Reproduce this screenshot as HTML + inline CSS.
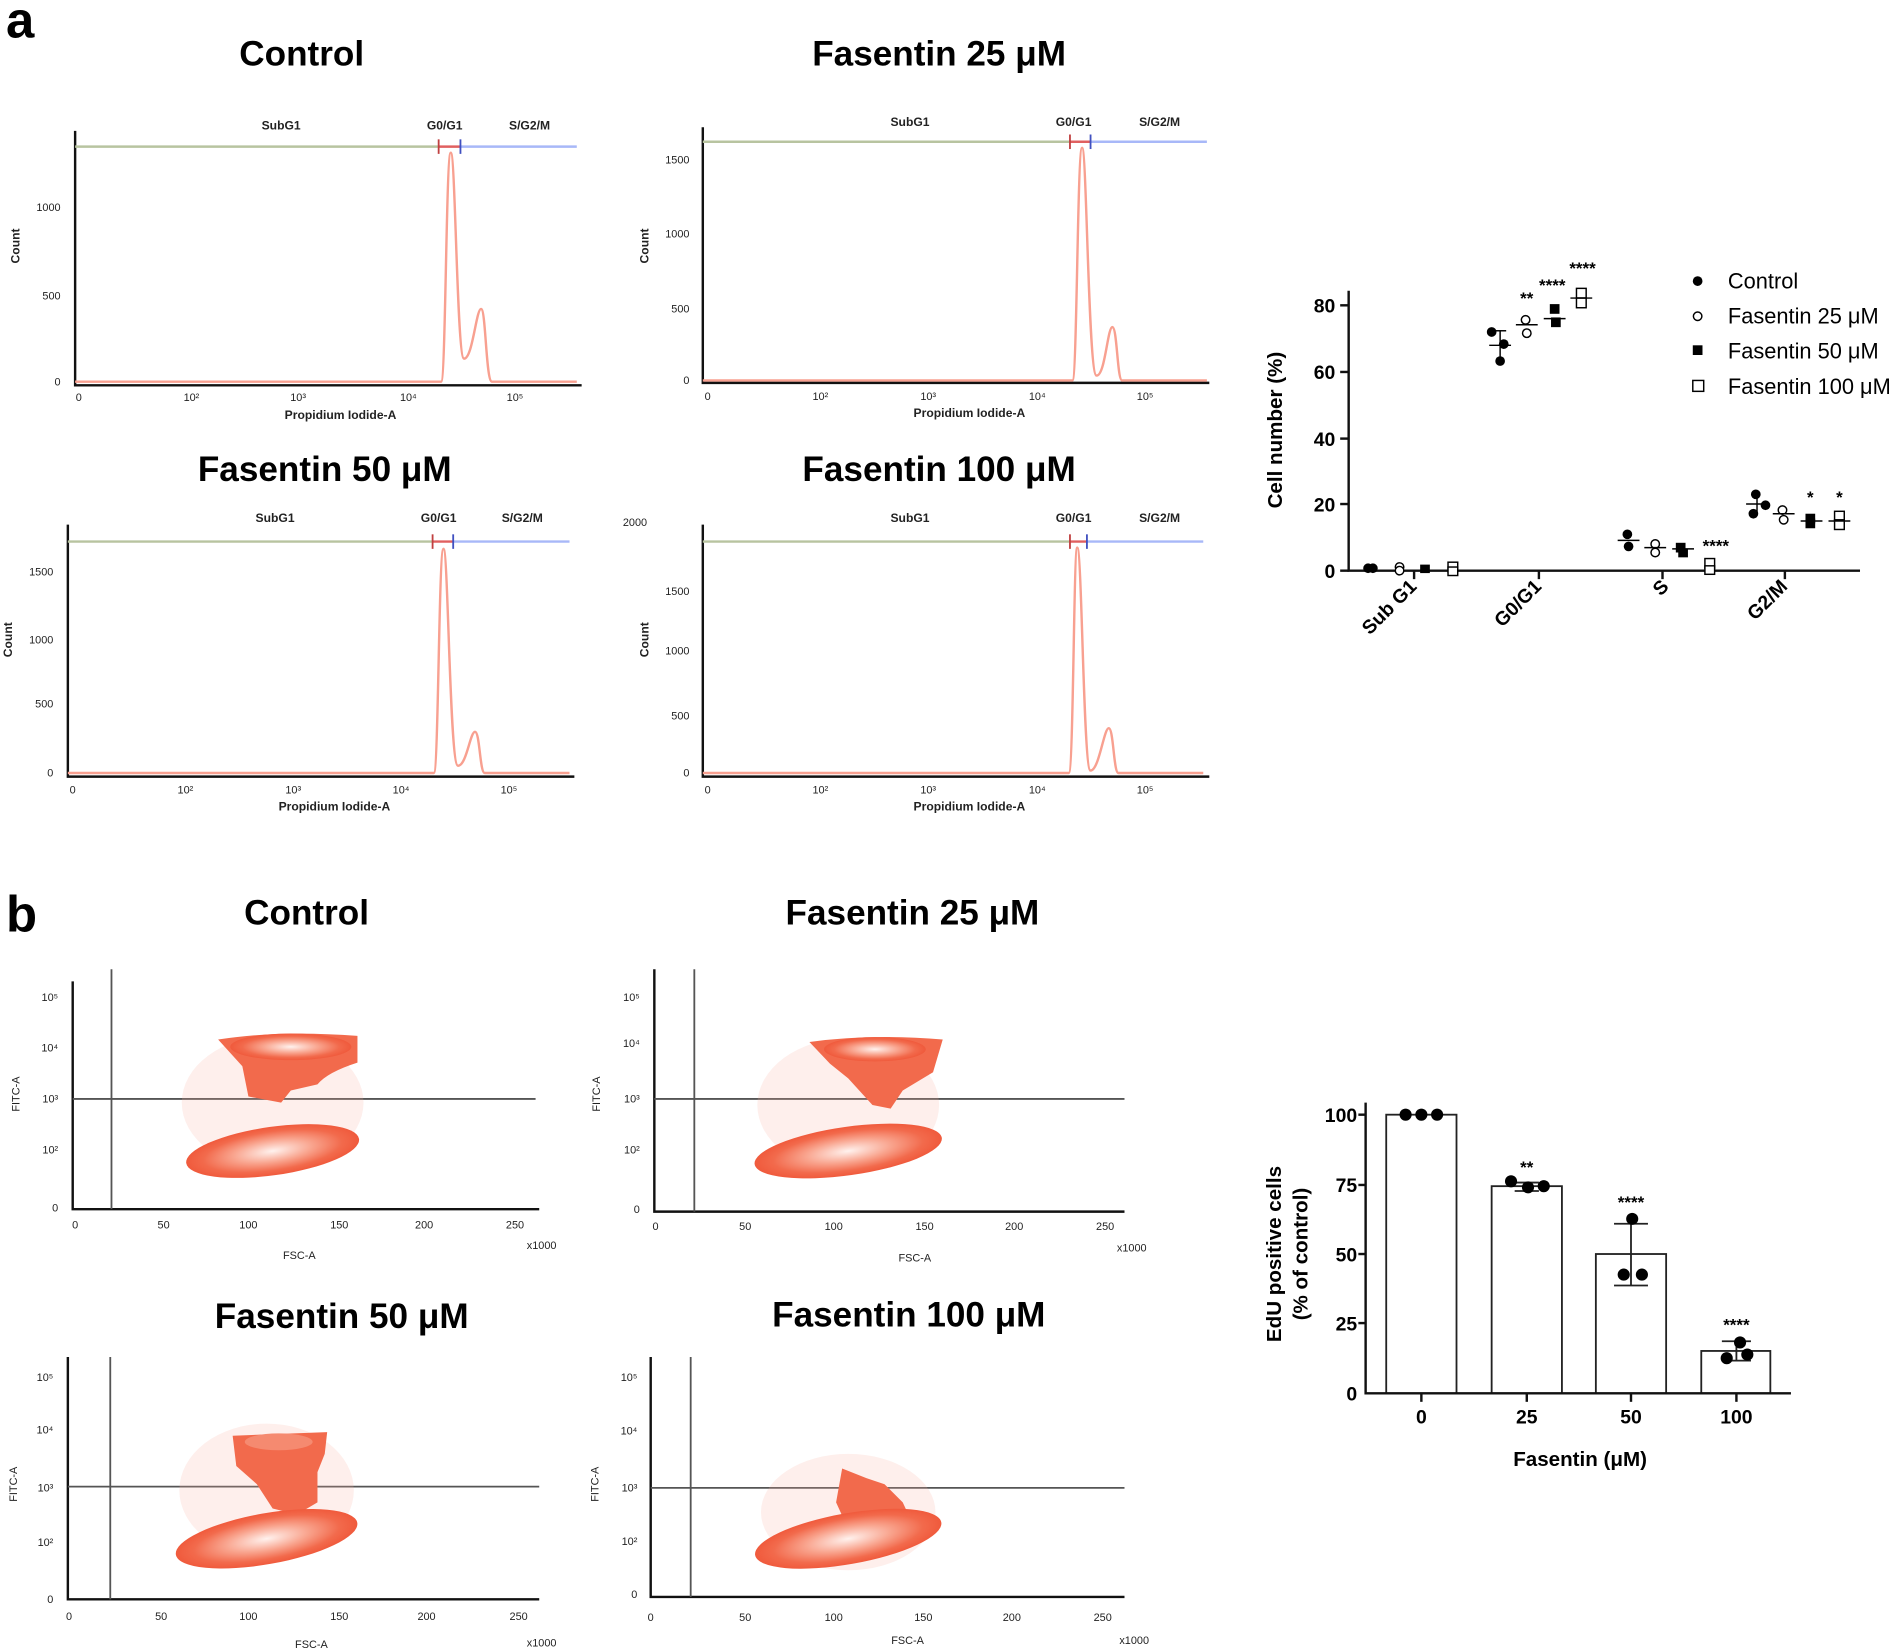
<!DOCTYPE html>
<html><head><meta charset="utf-8"><style>
html,body{margin:0;padding:0;background:#fff;}
svg{display:block;font-family:"Liberation Sans",Arial,sans-serif;}
.t{font-weight:bold;font-size:29px;text-anchor:middle;}
.s{font-size:9px;fill:#222;}
.sm{font-size:10px;fill:#222;font-weight:bold;}
.ax{stroke:#111;stroke-width:2;fill:none;}
.pk{stroke:#f8a090;stroke-width:2;fill:none;}
.gl{stroke:#555;stroke-width:1.5;}
.b{font-weight:bold;}
</style></head><body>
<svg width="1900" height="1649" viewBox="0 0 1568 1361" preserveAspectRatio="none">
<defs>
<radialGradient id="g"><stop offset="0" stop-color="#fff2ee"/><stop offset="0.45" stop-color="#f9a58f"/><stop offset="0.8" stop-color="#f26a4c"/><stop offset="1" stop-color="#f05a3c"/></radialGradient>
</defs>
<text x="5" y="31" font-size="42" class="b">a</text>
<text x="5" y="769" font-size="42" class="b">b</text>

<!-- Histogram 1 Control -->
<text x="249" y="54" class="t">Control</text>
<path class="ax" d="M62,108 V318 H480"/>
<line x1="62" y1="121" x2="362" y2="121" stroke="#b8c4a0" stroke-width="2"/>
<line x1="362" y1="121" x2="380" y2="121" stroke="#e06060" stroke-width="2"/>
<line x1="380" y1="121" x2="476" y2="121" stroke="#a8b8f8" stroke-width="2"/>
<line x1="362" y1="115" x2="362" y2="127" stroke="#c04040" stroke-width="1.5"/><line x1="380" y1="115" x2="380" y2="127" stroke="#4050c0" stroke-width="1.5"/>
<text x="232" y="107" class="sm" text-anchor="middle">SubG1</text><text x="367" y="107" class="sm" text-anchor="middle">G0/G1</text><text x="437" y="107" class="sm" text-anchor="middle">S/G2/M</text>
<path class="pk" d="M62,315 L364,315 C368,315 368,126 372,126 C376,126 377,296 383,296 C390,296 393,255 397,255 C401,255 401,315 406,315 L476,315"/>
<g class="s" text-anchor="end"><text x="50" y="174">1000</text><text x="50" y="247">500</text><text x="50" y="318">0</text></g>
<g class="s" text-anchor="middle"><text x="65" y="331">0</text><text x="158" y="331">10²</text><text x="246" y="331">10³</text><text x="337" y="331">10⁴</text><text x="425" y="331">10⁵</text></g>
<text x="281" y="346" class="sm" text-anchor="middle">Propidium  Iodide-A</text>
<text transform="translate(16,203) rotate(-90)" class="sm" text-anchor="middle">Count</text>

<!-- Histogram 2 -->
<text x="775" y="54" class="t">Fasentin 25 μM</text>
<path class="ax" d="M580,105 V316 H998"/>
<line x1="580" y1="117" x2="883" y2="117" stroke="#b8c4a0" stroke-width="2"/>
<line x1="883" y1="117" x2="900" y2="117" stroke="#e06060" stroke-width="2"/>
<line x1="900" y1="117" x2="996" y2="117" stroke="#a8b8f8" stroke-width="2"/>
<line x1="883" y1="111" x2="883" y2="123" stroke="#c04040" stroke-width="1.5"/><line x1="900" y1="111" x2="900" y2="123" stroke="#4050c0" stroke-width="1.5"/>
<text x="751" y="104" class="sm" text-anchor="middle">SubG1</text><text x="886" y="104" class="sm" text-anchor="middle">G0/G1</text><text x="957" y="104" class="sm" text-anchor="middle">S/G2/M</text>
<path class="pk" d="M580,314 L885,314 C889,314 889,122 893,122 C897,122 898,310 905,310 C912,310 914,270 918,270 C922,270 922,314 926,314 L996,314"/>
<g class="s" text-anchor="end"><text x="569" y="135">1500</text><text x="569" y="196">1000</text><text x="569" y="258">500</text><text x="569" y="317">0</text></g>
<g class="s" text-anchor="middle"><text x="584" y="330">0</text><text x="677" y="330">10²</text><text x="766" y="330">10³</text><text x="856" y="330">10⁴</text><text x="945" y="330">10⁵</text></g>
<text x="800" y="344" class="sm" text-anchor="middle">Propidium  Iodide-A</text>
<text transform="translate(535,203) rotate(-90)" class="sm" text-anchor="middle">Count</text>

<!-- Histogram 3 -->
<text x="268" y="397" class="t">Fasentin 50 μM</text>
<path class="ax" d="M56,433 V641 H474"/>
<line x1="56" y1="447" x2="357" y2="447" stroke="#b8c4a0" stroke-width="2"/>
<line x1="357" y1="447" x2="374" y2="447" stroke="#e06060" stroke-width="2"/>
<line x1="374" y1="447" x2="470" y2="447" stroke="#a8b8f8" stroke-width="2"/>
<line x1="357" y1="441" x2="357" y2="453" stroke="#c04040" stroke-width="1.5"/><line x1="374" y1="441" x2="374" y2="453" stroke="#4050c0" stroke-width="1.5"/>
<text x="227" y="431" class="sm" text-anchor="middle">SubG1</text><text x="362" y="431" class="sm" text-anchor="middle">G0/G1</text><text x="431" y="431" class="sm" text-anchor="middle">S/G2/M</text>
<path class="pk" d="M56,638 L358,638 C362,638 362,453 366,453 C370,453 371,632 378,632 C385,632 388,604 392,604 C396,604 396,638 400,638 L470,638"/>
<g class="s" text-anchor="end"><text x="44" y="475">1500</text><text x="44" y="531">1000</text><text x="44" y="584">500</text><text x="44" y="641">0</text></g>
<g class="s" text-anchor="middle"><text x="60" y="655">0</text><text x="153" y="655">10²</text><text x="242" y="655">10³</text><text x="331" y="655">10⁴</text><text x="420" y="655">10⁵</text></g>
<text x="276" y="669" class="sm" text-anchor="middle">Propidium  Iodide-A</text>
<text transform="translate(10,528) rotate(-90)" class="sm" text-anchor="middle">Count</text>

<!-- Histogram 4 -->
<text x="775" y="397" class="t">Fasentin 100 μM</text>
<path class="ax" d="M580,433 V641 H998"/>
<line x1="580" y1="447" x2="883" y2="447" stroke="#b8c4a0" stroke-width="2"/>
<line x1="883" y1="447" x2="897" y2="447" stroke="#e06060" stroke-width="2"/>
<line x1="897" y1="447" x2="993" y2="447" stroke="#a8b8f8" stroke-width="2"/>
<line x1="883" y1="441" x2="883" y2="453" stroke="#c04040" stroke-width="1.5"/><line x1="897" y1="441" x2="897" y2="453" stroke="#4050c0" stroke-width="1.5"/>
<text x="751" y="431" class="sm" text-anchor="middle">SubG1</text><text x="886" y="431" class="sm" text-anchor="middle">G0/G1</text><text x="957" y="431" class="sm" text-anchor="middle">S/G2/M</text>
<path class="pk" d="M580,638 L882,638 C886,638 886,452 889,452 C893,452 894,636 900,636 C907,636 911,601 915,601 C919,601 919,638 923,638 L993,638"/>
<g class="s" text-anchor="end"><text x="534" y="434">2000</text><text x="569" y="491">1500</text><text x="569" y="540">1000</text><text x="569" y="594">500</text><text x="569" y="641">0</text></g>
<g class="s" text-anchor="middle"><text x="584" y="655">0</text><text x="677" y="655">10²</text><text x="766" y="655">10³</text><text x="856" y="655">10⁴</text><text x="945" y="655">10⁵</text></g>
<text x="800" y="669" class="sm" text-anchor="middle">Propidium  Iodide-A</text>
<text transform="translate(535,528) rotate(-90)" class="sm" text-anchor="middle">Count</text>

<!-- Cell cycle chart -->
<path class="ax" d="M1113,240 V471 H1535"/>
<g class="ax"><line x1="1106" y1="252" x2="1113" y2="252"/><line x1="1106" y1="307" x2="1113" y2="307"/><line x1="1106" y1="362" x2="1113" y2="362"/><line x1="1106" y1="416" x2="1113" y2="416"/><line x1="1106" y1="471" x2="1113" y2="471"/>
<line x1="1167" y1="471" x2="1167" y2="478"/><line x1="1270" y1="471" x2="1270" y2="478"/><line x1="1372" y1="471" x2="1372" y2="478"/><line x1="1473" y1="471" x2="1473" y2="478"/></g>
<g font-size="16" class="b" text-anchor="end"><text x="1102" y="258">80</text><text x="1102" y="313">60</text><text x="1102" y="368">40</text><text x="1102" y="422">20</text><text x="1102" y="477">0</text></g>
<text transform="translate(1058,355) rotate(-90)" font-size="17" class="b" text-anchor="middle">Cell number (%)</text>
<g font-size="16" class="b" text-anchor="end">
<text transform="translate(1170,485) rotate(-45)">Sub G1</text>
<text transform="translate(1273,485) rotate(-45)">G0/G1</text>
<text transform="translate(1378,485) rotate(-45)">S</text>
<text transform="translate(1476,485) rotate(-45)">G2/M</text></g>
<g fill="#000">
<circle cx="1129" cy="469" r="4"/><circle cx="1133" cy="469" r="4"/>
<circle cx="1231" cy="274" r="4"/><circle cx="1241" cy="284" r="4"/><circle cx="1238" cy="298" r="4"/>
<circle cx="1343" cy="441" r="4"/><circle cx="1344" cy="451" r="4"/>
<circle cx="1449" cy="408" r="4"/><circle cx="1457" cy="417" r="4"/><circle cx="1447" cy="424" r="4"/>
<rect x="1172" y="466" width="8" height="7"/>
<rect x="1279" y="251" width="8" height="8"/><rect x="1280" y="262" width="8" height="8"/>
<rect x="1383" y="448" width="8" height="8"/><rect x="1385" y="453" width="8" height="7"/>
<rect x="1490" y="424" width="8" height="8"/><rect x="1490" y="428" width="8" height="8"/>
</g>
<g fill="#fff" stroke="#000" stroke-width="1.2">
<circle cx="1155" cy="468" r="3.5"/><circle cx="1155" cy="471" r="3.5"/>
<circle cx="1259" cy="264" r="3.5"/><circle cx="1260" cy="275" r="3.5"/>
<circle cx="1366" cy="449" r="3.5"/><circle cx="1366" cy="456" r="3.5"/>
<circle cx="1471" cy="421" r="3.5"/><circle cx="1472" cy="429" r="3.5"/>
<rect x="1195" y="464" width="8" height="8"/><rect x="1195" y="468" width="8" height="7"/>
<rect x="1301" y="238" width="8" height="8"/><rect x="1301" y="246" width="8" height="8"/>
<rect x="1407" y="461" width="8" height="8"/><rect x="1407" y="467" width="8" height="7"/>
<rect x="1514" y="422" width="8" height="8"/><rect x="1514" y="429" width="8" height="8"/>
</g>
<g stroke="#000" stroke-width="1.2">
<line x1="1229" y1="285" x2="1247" y2="285"/><line x1="1238" y1="273" x2="1238" y2="297"/><line x1="1233" y1="273" x2="1243" y2="273"/>
<line x1="1251" y1="268" x2="1269" y2="268"/><line x1="1274" y1="263" x2="1292" y2="263"/><line x1="1296" y1="246" x2="1314" y2="246"/>
<line x1="1335" y1="446" x2="1353" y2="446"/><line x1="1357" y1="452" x2="1375" y2="452"/><line x1="1380" y1="453" x2="1398" y2="453"/>
<line x1="1441" y1="416" x2="1459" y2="416"/><line x1="1450" y1="407" x2="1450" y2="425"/>
<line x1="1463" y1="424" x2="1481" y2="424"/><line x1="1486" y1="430" x2="1504" y2="430"/><line x1="1509" y1="430" x2="1527" y2="430"/>
</g>
<g font-size="14" text-anchor="middle" class="b"><text x="1260" y="251">**</text><text x="1281" y="240">****</text><text x="1306" y="226">****</text><text x="1416" y="455">****</text><text x="1494" y="415">*</text><text x="1518" y="415">*</text></g>
<circle cx="1401" cy="232" r="4"/>
<circle cx="1401" cy="261" r="3.5" fill="#fff" stroke="#000" stroke-width="1.2"/>
<rect x="1397" y="285" width="8" height="8"/>
<rect x="1397" y="314" width="9" height="9" fill="#fff" stroke="#000" stroke-width="1.2"/>
<g font-size="18"><text x="1426" y="238">Control</text><text x="1426" y="267">Fasentin 25 μM</text><text x="1426" y="296">Fasentin 50 μM</text><text x="1426" y="325">Fasentin 100 μM</text></g>

<!-- Dot plots -->
<g>
<text x="253" y="763" class="t">Control</text>
<path class="ax" d="M60,810 V998 H445"/>
<line class="gl" x1="92" y1="800" x2="92" y2="998"/><line class="gl" x1="60" y1="907" x2="442" y2="907"/>
<ellipse cx="225" cy="910" rx="75" ry="55" fill="#f8b0a0" opacity="0.2"/>
<path d="M180,858 Q230,850 295,855 L295,877 Q270,885 262,895 L240,900 L232,910 L205,905 L200,880 Z" fill="#f26a4c"/>
<ellipse cx="240" cy="864" rx="50" ry="11" fill="url(#g)"/>
<ellipse cx="225" cy="950" rx="72" ry="20" transform="rotate(-8 225 950)" fill="url(#g)"/>
<g class="s" text-anchor="end"><text x="48" y="826">10⁵</text><text x="48" y="868">10⁴</text><text x="48" y="910">10³</text><text x="48" y="952">10²</text><text x="48" y="1000">0</text></g>
<g class="s" text-anchor="middle"><text x="62" y="1014">0</text><text x="135" y="1014">50</text><text x="205" y="1014">100</text><text x="280" y="1014">150</text><text x="350" y="1014">200</text><text x="425" y="1014">250</text></g>
<text x="247" y="1039" class="s" text-anchor="middle">FSC-A</text><text x="447" y="1031" class="s" text-anchor="middle">x1000</text>
<text transform="translate(16,903) rotate(-90)" class="s" text-anchor="middle">FITC-A</text>
</g>
<g>
<text x="753" y="763" class="t">Fasentin 25 μM</text>
<path class="ax" d="M540,800 V1000 H928"/>
<line class="gl" x1="573" y1="800" x2="573" y2="1000"/><line class="gl" x1="540" y1="907" x2="928" y2="907"/>
<ellipse cx="700" cy="912" rx="75" ry="55" fill="#f8b0a0" opacity="0.2"/>
<path d="M668,860 Q720,853 778,858 L770,885 L745,900 L735,915 L720,912 L700,890 L685,878 Z" fill="#f26a4c"/>
<ellipse cx="722" cy="866" rx="42" ry="10" fill="url(#g)"/>
<ellipse cx="700" cy="950" rx="78" ry="20" transform="rotate(-8 700 950)" fill="url(#g)"/>
<g class="s" text-anchor="end"><text x="528" y="826">10⁵</text><text x="528" y="864">10⁴</text><text x="528" y="910">10³</text><text x="528" y="952">10²</text><text x="528" y="1001">0</text></g>
<g class="s" text-anchor="middle"><text x="541" y="1015">0</text><text x="615" y="1015">50</text><text x="688" y="1015">100</text><text x="763" y="1015">150</text><text x="837" y="1015">200</text><text x="912" y="1015">250</text></g>
<text x="755" y="1041" class="s" text-anchor="middle">FSC-A</text><text x="934" y="1033" class="s" text-anchor="middle">x1000</text>
<text transform="translate(495,903) rotate(-90)" class="s" text-anchor="middle">FITC-A</text>
</g>
<g>
<text x="282" y="1096" class="t">Fasentin 50 μM</text>
<path class="ax" d="M56,1120 V1320 H445"/>
<line class="gl" x1="91" y1="1120" x2="91" y2="1320"/><line class="gl" x1="56" y1="1227" x2="445" y2="1227"/>
<ellipse cx="220" cy="1230" rx="72" ry="55" fill="#f8b0a0" opacity="0.2"/>
<path d="M192,1185 L270,1182 L268,1200 L262,1215 L262,1240 L245,1250 L225,1245 L212,1225 L195,1210 Z" fill="#f26a4c"/>
<ellipse cx="230" cy="1190" rx="28" ry="7" fill="#f58a70"/>
<ellipse cx="220" cy="1270" rx="76" ry="21" transform="rotate(-10 220 1270)" fill="url(#g)"/>
<g class="s" text-anchor="end"><text x="44" y="1140">10⁵</text><text x="44" y="1183">10⁴</text><text x="44" y="1231">10³</text><text x="44" y="1276">10²</text><text x="44" y="1323">0</text></g>
<g class="s" text-anchor="middle"><text x="57" y="1337">0</text><text x="133" y="1337">50</text><text x="205" y="1337">100</text><text x="280" y="1337">150</text><text x="352" y="1337">200</text><text x="428" y="1337">250</text></g>
<text x="257" y="1360" class="s" text-anchor="middle">FSC-A</text><text x="447" y="1359" class="s" text-anchor="middle">x1000</text>
<text transform="translate(14,1225) rotate(-90)" class="s" text-anchor="middle">FITC-A</text>
</g>
<g>
<text x="750" y="1095" class="t">Fasentin 100 μM</text>
<path class="ax" d="M537,1120 V1318 H928"/>
<line class="gl" x1="570" y1="1120" x2="570" y2="1318"/><line class="gl" x1="537" y1="1228" x2="928" y2="1228"/>
<ellipse cx="700" cy="1248" rx="72" ry="48" fill="#f8b0a0" opacity="0.2"/>
<path d="M695,1212 L715,1220 L730,1225 L745,1240 L752,1255 L700,1262 L690,1240 Z" fill="#f26a4c"/>
<ellipse cx="700" cy="1270" rx="78" ry="21" transform="rotate(-10 700 1270)" fill="url(#g)"/>
<g class="s" text-anchor="end"><text x="526" y="1140">10⁵</text><text x="526" y="1184">10⁴</text><text x="526" y="1231">10³</text><text x="526" y="1275">10²</text><text x="526" y="1319">0</text></g>
<g class="s" text-anchor="middle"><text x="537" y="1338">0</text><text x="615" y="1338">50</text><text x="688" y="1338">100</text><text x="762" y="1338">150</text><text x="835" y="1338">200</text><text x="910" y="1338">250</text></g>
<text x="749" y="1357" class="s" text-anchor="middle">FSC-A</text><text x="936" y="1357" class="s" text-anchor="middle">x1000</text>
<text transform="translate(494,1225) rotate(-90)" class="s" text-anchor="middle">FITC-A</text>
</g>

<!-- EdU bar chart -->
<g fill="#fff" stroke="#222" stroke-width="1.5">
<rect x="1144" y="920" width="58" height="230"/>
<rect x="1231" y="979" width="58" height="171"/>
<rect x="1317" y="1035" width="58" height="115"/>
<rect x="1404" y="1115" width="57" height="35"/>
</g>
<path class="ax" d="M1127,910 V1150 H1478"/>
<g class="ax"><line x1="1121" y1="920" x2="1127" y2="920"/><line x1="1121" y1="978" x2="1127" y2="978"/><line x1="1121" y1="1035" x2="1127" y2="1035"/><line x1="1121" y1="1092" x2="1127" y2="1092"/>
<line x1="1173" y1="1150" x2="1173" y2="1157"/><line x1="1260" y1="1150" x2="1260" y2="1157"/><line x1="1346" y1="1150" x2="1346" y2="1157"/><line x1="1433" y1="1150" x2="1433" y2="1157"/></g>
<g stroke="#222" stroke-width="1.5">
<line x1="1250" y1="976" x2="1270" y2="976"/><line x1="1250" y1="983" x2="1270" y2="983"/>
<line x1="1346" y1="1010" x2="1346" y2="1061"/><line x1="1332" y1="1010" x2="1360" y2="1010"/><line x1="1332" y1="1061" x2="1360" y2="1061"/>
<line x1="1433" y1="1107" x2="1433" y2="1123"/><line x1="1421" y1="1107" x2="1445" y2="1107"/><line x1="1421" y1="1123" x2="1445" y2="1123"/>
</g>
<g fill="#000">
<circle cx="1160" cy="920" r="5"/><circle cx="1173" cy="920" r="5"/><circle cx="1186" cy="920" r="5"/>
<circle cx="1247" cy="975" r="5"/><circle cx="1261" cy="980" r="5"/><circle cx="1274" cy="979" r="5"/>
<circle cx="1347" cy="1006" r="5"/><circle cx="1340" cy="1052" r="5"/><circle cx="1355" cy="1052" r="5"/>
<circle cx="1436" cy="1108" r="5"/><circle cx="1425" cy="1121" r="5"/><circle cx="1442" cy="1118" r="5"/>
</g>
<g font-size="14" text-anchor="middle" class="b"><text x="1260" y="968">**</text><text x="1346" y="997">****</text><text x="1433" y="1098">****</text></g>
<g font-size="16" class="b" text-anchor="end"><text x="1120" y="926">100</text><text x="1120" y="984">75</text><text x="1120" y="1041">50</text><text x="1120" y="1098">25</text><text x="1120" y="1156">0</text></g>
<g font-size="16" class="b" text-anchor="middle"><text x="1173" y="1175">0</text><text x="1260" y="1175">25</text><text x="1346" y="1175">50</text><text x="1433" y="1175">100</text></g>
<text x="1304" y="1210" font-size="17" class="b" text-anchor="middle">Fasentin (μM)</text>
<text transform="translate(1057,1035) rotate(-90)" font-size="17" class="b" text-anchor="middle">EdU positive cells</text>
<text transform="translate(1079,1035) rotate(-90)" font-size="17" class="b" text-anchor="middle">(% of control)</text>
</svg>
</body></html>
